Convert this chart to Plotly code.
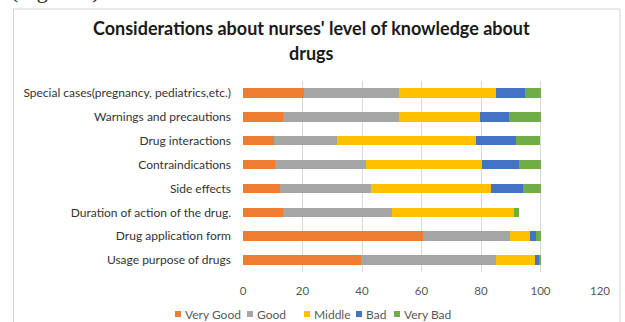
import plotly.graph_objects as go

categories = [
    "Usage purpose of drugs",
    "Drug application form",
    "Duration of action of the drug.",
    "Side effects",
    "Contraindications",
    "Drug interactions",
    "Warnings and precautions",
    "Special cases(pregnancy, pediatrics,etc.)",
]
series_names = ["Very Good", "Good", "Middle", "Bad", "Very Bad"]
very_good = [39.6, 60.4, 13.5, 12.6, 10.9, 10.3, 13.5, 20.4]
good = [45.3, 29.3, 36.6, 30.5, 30.3, 21.4, 39.1, 32.2]
middle = [13.1, 6.9, 40.9, 40.2, 39.1, 46.6, 27.2, 32.6]
bad = [1.8, 1.8, 0.0, 10.9, 12.5, 13.6, 9.6, 9.6]
very_bad = [0.2, 1.6, 1.9, 5.8, 7.2, 7.9, 10.6, 5.2]
series_values = [very_good, good, middle, bad, very_bad]
colors = ["#ED7D31", "#A5A5A5", "#FFC000", "#4472C4", "#70AD47"]
x_ticks = [0, 20, 40, 60, 80, 100, 120]

W, H = 625, 322
L, R, T, B = 243, 25, 81, 50
PW, PH = W - L - R, H - T - B

def pxx(px):
    return (px - L) / PW

def pyy(py):
    return (H - B - py) / PH

fig = go.Figure()
for name, vals, col in zip(series_names, series_values, colors):
    fig.add_trace(go.Bar(y=categories, x=vals, name=name, orientation="h",
                         marker=dict(color=col, line=dict(width=0)),
                         showlegend=False))

font_main = "Lato, 'Open Sans', sans-serif"
fig.update_layout(
    width=W, height=H,
    margin=dict(l=L, r=R, t=T, b=B, pad=0),
    paper_bgcolor="white", plot_bgcolor="white",
    barmode="stack", bargap=0.6,
    font=dict(family=font_main, size=11, color="#404040"),
    xaxis=dict(range=[0, 120], tickvals=x_ticks, showgrid=True,
               gridcolor="#D9D9D9", gridwidth=1, zeroline=False,
               showline=False, ticks="",
               tickfont=dict(size=11.5, color="#595959"),
               ticklabelstandoff=10, fixedrange=True),
    yaxis=dict(showgrid=False, zeroline=False, showline=False, ticks="",
               tickfont=dict(size=12, color="#333333"),
               ticklabelstandoff=11, fixedrange=True),
)

# chart frame
fig.add_shape(type="rect", xref="paper", yref="paper",
              x0=pxx(13.5), x1=pxx(620), y0=pyy(330), y1=pyy(9),
              line=dict(color="#D4D4D4", width=1), fillcolor="rgba(0,0,0,0)",
              layer="below")

# title
fig.add_annotation(text="<b>Considerations about nurses' level of knowledge about</b>",
                   xref="paper", yref="paper", x=pxx(311), y=pyy(28),
                   xanchor="center", yanchor="middle", showarrow=False,
                   font=dict(family=font_main, size=18, color="#1A1A1A"))
fig.add_annotation(text="<b>drugs</b>",
                   xref="paper", yref="paper", x=pxx(311), y=pyy(53),
                   xanchor="center", yanchor="middle", showarrow=False,
                   font=dict(family=font_main, size=18, color="#1A1A1A"))

# partially visible caption above the figure
fig.add_annotation(text="(Figure 1).", xref="paper", yref="paper",
                   x=pxx(9), y=pyy(5), xanchor="left", yanchor="bottom",
                   showarrow=False,
                   font=dict(family="Liberation Serif", size=22, color="#222222"))

# legend
legend_px = [178, 250, 307, 359, 397]
ly = 314
for name, col, cx in zip(series_names, colors, legend_px):
    fig.add_shape(type="rect", xref="paper", yref="paper",
                  x0=pxx(cx - 3), x1=pxx(cx + 3), y0=pyy(ly + 3), y1=pyy(ly - 3),
                  line=dict(width=0), fillcolor=col)
    fig.add_annotation(text=name, xref="paper", yref="paper",
                       x=pxx(cx + 5), y=pyy(ly), xanchor="left", yanchor="middle",
                       showarrow=False,
                       font=dict(family=font_main, size=12, color="#595959"))

fig.write_html("out.html")
